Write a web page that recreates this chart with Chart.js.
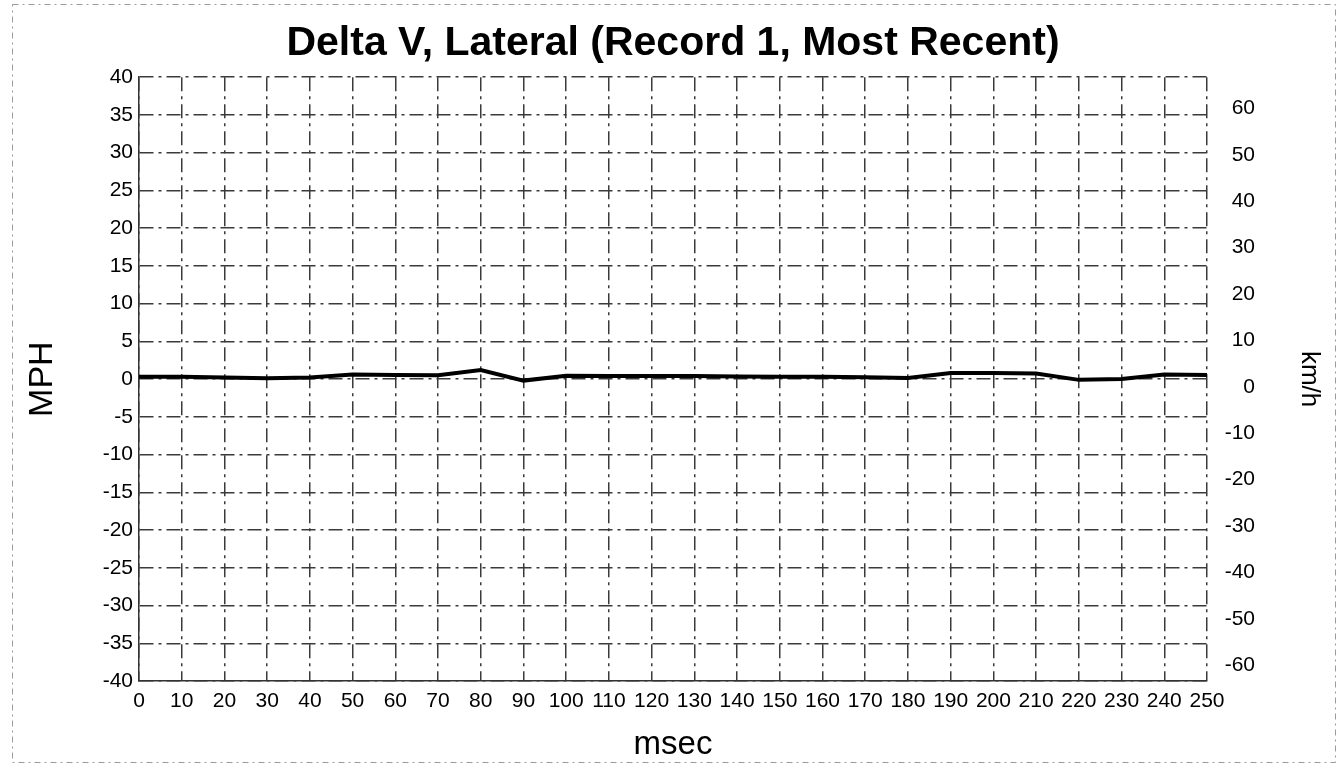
<!DOCTYPE html>
<html>
<head>
<meta charset="utf-8">
<script src="https://cdn.jsdelivr.net/npm/chart.js@4"></script>
<style>
  html, body { margin: 0; padding: 0; background: #fff; }
  #wrap { width: 1340px; height: 772px; }
</style>
</head>
<body>
<div id="wrap"><canvas id="deltaChart" width="1340" height="772"></canvas></div>
<script>
// Delta V, Lateral
const msec = [0, 10, 20, 30, 40, 50, 60, 70, 80, 90, 100, 110, 120,
              130, 140, 150, 160, 170, 180, 190, 200, 210, 220, 230, 240, 250];
const mph = [0.3, 0.3, 0.2, 0.1, 0.2, 0.6, 0.55, 0.5, 1.2, -0.2, 0.45, 0.4, 0.4,
             0.4, 0.35, 0.3, 0.3, 0.25, 0.15, 0.8, 0.8, 0.75, -0.1, 0.0, 0.6, 0.55];
const mphRange = [-40, 40];
const kmhRange = [-63.4, 66.7];
const kmhTicks = [-60, -50, -40, -30, -20, -10, 0, 10, 20, 30, 40, 50, 60];

const FONT = "'Liberation Sans', Arial, sans-serif";
const gridDash = [14, 5, 3, 5];

// dotted frame around the whole printout
const pageFrame = {
    id: 'pageFrame',
    beforeDraw(chart) {
        const ctx = chart.ctx;
        ctx.save();
        ctx.strokeStyle = '#9a9a9a';
        ctx.lineWidth = 1;
        ctx.setLineDash([6, 4, 2, 4]);
        ctx.strokeRect(12.5, 4.5, 1323, 758);
        ctx.restore();
    }
};

const ctx = document.getElementById('deltaChart').getContext('2d');
const deltaChart = new Chart(ctx, {
    type: 'line',
    data: {
        datasets: [{
            label: 'Delta V',
            data: msec.map((t, i) => ({ x: t, y: mph[i] })),
            borderColor: '#000',
            borderWidth: 4,
            pointRadius: 0,
            tension: 0,
            yAxisID: 'y'
        }]
    },
    options: {
        responsive: false,
        animation: false,
        layout: { padding: { left: 20, right: 85, top: 0, bottom: 0 } },
        scales: {
            x: {
                type: 'linear',
                min: 0,
                max: 250,
                afterFit: function(scale) { scale.height = 91; },
                ticks: {
                    stepSize: 10,
                    color: '#000',
                    padding: 8,
                    maxRotation: 0,
                    autoSkip: false,
                    font: { family: FONT, size: 21 }
                },
                grid: { color: '#3a3a3a', lineWidth: 1.5, drawTicks: false },
                border: { color: '#333', width: 1.5, dash: gridDash },
                title: {
                    display: true,
                    text: 'msec',
                    color: '#000',
                    font: { family: FONT, size: 33 },
                    padding: { top: 0, bottom: 7 }
                }
            },
            y: {
                position: 'left',
                min: mphRange[0],
                max: mphRange[1],
                afterFit: function(scale) { scale.width = 119; },
                ticks: {
                    stepSize: 5,
                    color: '#000',
                    padding: 6,
                    autoSkip: false,
                    font: { family: FONT, size: 21 }
                },
                grid: { color: '#3a3a3a', lineWidth: 1.5, drawTicks: false },
                border: { color: '#333', width: 1.5, dash: gridDash },
                title: {
                    display: true,
                    text: 'MPH',
                    color: '#000',
                    font: { family: FONT, size: 34 },
                    padding: { top: 2, bottom: 0 }
                }
            },
            y2: {
                position: 'right',
                min: kmhRange[0],
                max: kmhRange[1],
                afterFit: function(scale) { scale.width = 48; },
                afterBuildTicks: function(scale) {
                    scale.ticks = kmhTicks.map(v => ({ value: v }));
                },
                ticks: {
                    crossAlign: 'far',
                    color: '#000',
                    padding: 14,
                    autoSkip: false,
                    font: { family: FONT, size: 21 }
                },
                grid: { display: false, drawTicks: false },
                border: { display: false },
                title: {
                    display: true,
                    text: 'km/h',
                    color: '#000',
                    font: { family: FONT, size: 26 },
                    padding: { top: -70, bottom: 0 }
                }
            }
        },
        plugins: {
            legend: { display: false },
            tooltip: { enabled: false },
            title: {
                display: true,
                text: 'Delta V, Lateral (Record 1, Most Recent)',
                color: '#000',
                fullSize: false,
                font: { family: FONT, size: 41, weight: 'bold' },
                padding: { top: 19, bottom: 9 }
            }
        }
    },
    plugins: [pageFrame]
});
</script>
</body>
</html>
